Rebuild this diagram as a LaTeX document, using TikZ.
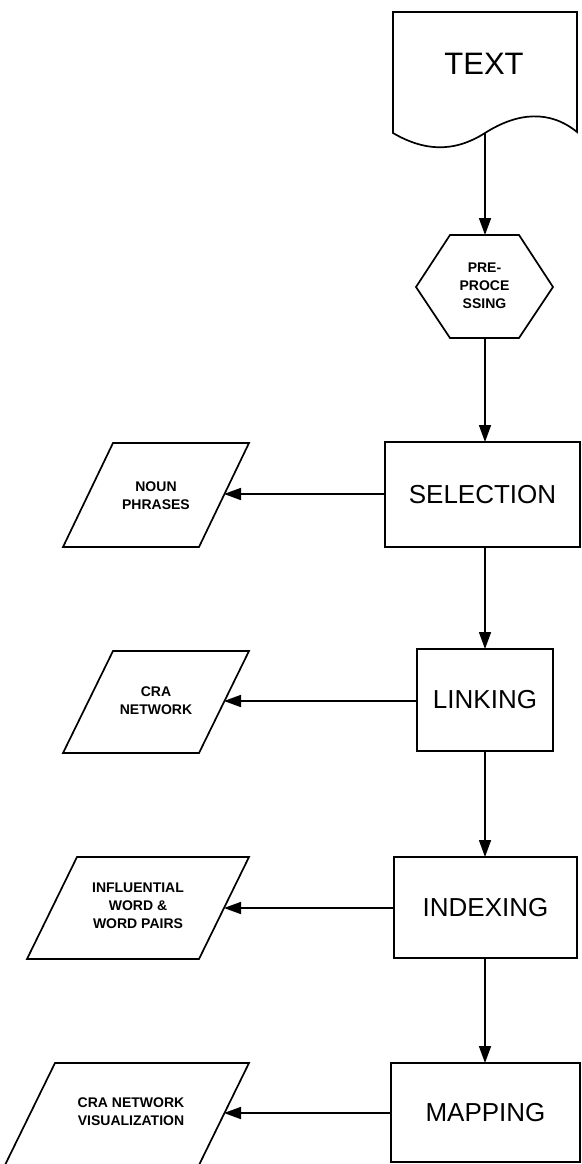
\documentclass[tikz,border=0pt]{standalone}
\usepackage{fontspec}
\setmainfont{Liberation Sans}
\usetikzlibrary{arrows.meta}
\begin{document}
\begin{tikzpicture}[x=1pt,y=-1pt,
  outline/.style={draw=black,line width=1.7pt,line join=miter},
  flow/.style={draw=black,line width=1.7pt,-{Triangle[length=17pt,width=12pt]}},
  stage/.style={outline,rectangle,inner sep=0pt,font=\fontsize{26}{30}\selectfont},
  label/.style={inner sep=0pt,align=center,font=\bfseries\fontsize{14}{18}\selectfont},
  biglabel/.style={inner sep=0pt,font=\fontsize{31}{36}\selectfont}]
\useasboundingbox (0,0) rectangle (581,1164);

% input document
\draw[outline] (393,12) -- (577,12) -- (577,132)
  .. controls (550,110) and (518,112) .. (485,133)
  .. controls (452,154) and (422,150) .. (393,133) -- cycle;
\node[biglabel] (text) at (484,64) {TEXT};
\coordinate (text-s) at (485,133);

% pre-processing hexagon
\draw[outline] (450,235) -- (519,235) -- (553,287) -- (519,338) -- (450,338) -- (416,287) -- cycle;
\node[label] (pre) at (484.5,286) {PRE-\\PROCE\\SSING};
\coordinate (pre-n) at (485,235);
\coordinate (pre-s) at (485,338);

% processing stages
\node[stage,minimum width=195pt,minimum height=105pt] (sel) at (482.5,494.5) {SELECTION};
\node[stage,minimum width=136pt,minimum height=102pt] (lnk) at (485,700) {LINKING};
\node[stage,minimum width=183pt,minimum height=101pt] (idx) at (485.5,907.5) {INDEXING};
\node[stage,minimum width=189pt,minimum height=99pt] (map) at (485.5,1112.5) {MAPPING};
\coordinate (sel-n) at (485,442);
\coordinate (sel-s) at (485,547);
\coordinate (lnk-n) at (485,649);
\coordinate (lnk-s) at (485,751);
\coordinate (idx-n) at (485,857);
\coordinate (idx-s) at (485,958);
\coordinate (map-n) at (485,1063);

% output parallelograms
\draw[outline] (113,443) -- (249,443) -- (199,547) -- (63,547) -- cycle;
\node[label] (np) at (156,496) {NOUN\\PHRASES};
\coordinate (np-e) at (224,494);

\draw[outline] (113,651) -- (249,651) -- (199,753) -- (63,753) -- cycle;
\node[label] (net) at (156,701) {CRA\\NETWORK};
\coordinate (net-e) at (224,701);

\draw[outline] (77,857) -- (249,857) -- (199,959) -- (27,959) -- cycle;
\node[label] (inf) at (138,906) {INFLUENTIAL\\WORD \&\\WORD PAIRS};
\coordinate (inf-e) at (224,908);

\draw[outline] (55,1063) -- (249,1063) -- (199,1165) -- (5,1165) -- cycle;
\node[label] (vis) at (131,1112) {CRA NETWORK\\VISUALIZATION};
\coordinate (vis-e) at (224,1113);

% main flow
\draw[flow] (text-s) -- (pre-n);
\draw[flow] (pre-s) -- (sel-n);
\draw[flow] (sel-s) -- (lnk-n);
\draw[flow] (lnk-s) -- (idx-n);
\draw[flow] (idx-s) -- (map-n);

% outputs of each stage
\draw[flow] (sel.west |- np-e) -- (np-e);
\draw[flow] (lnk.west |- net-e) -- (net-e);
\draw[flow] (idx.west |- inf-e) -- (inf-e);
\draw[flow] (map.west |- vis-e) -- (vis-e);
\end{tikzpicture}
\end{document}
